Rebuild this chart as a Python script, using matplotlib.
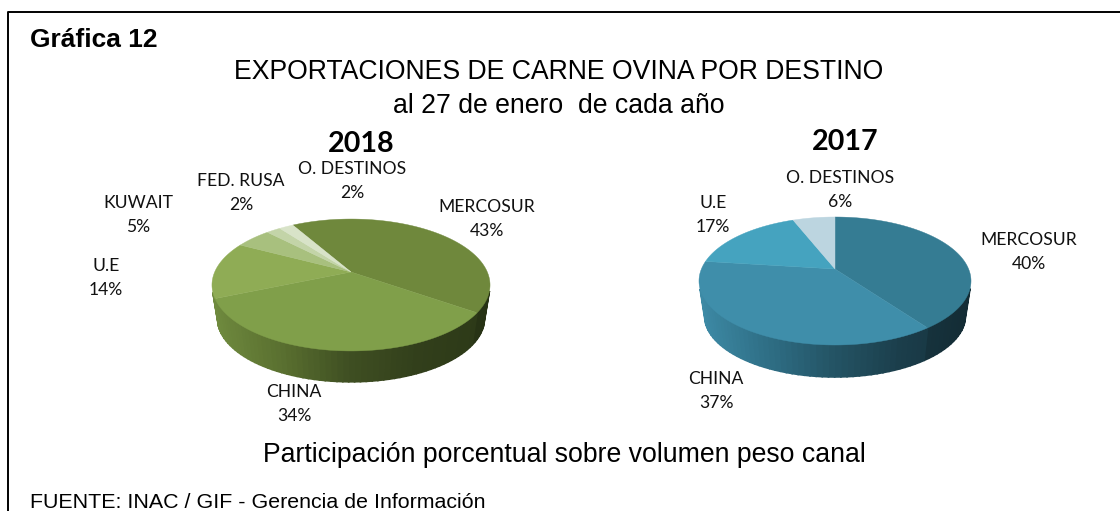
import numpy as np
import matplotlib
matplotlib.use('Agg')
import matplotlib.pyplot as plt
from matplotlib.colors import LinearSegmentedColormap
from matplotlib.patches import Polygon

labels_2018 = ['MERCOSUR', 'CHINA', 'U.E', 'KUWAIT', 'FED. RUSA', 'O. DESTINOS']
values_2018 = [43, 34, 14, 5, 2, 2]
colors_2018 = ['#6f883c', '#809f4a', '#8fac55', '#a8c07e', '#c3d4a8', '#d8e3c8']
side_2018 = ['#6f8a3e', '#5a7030', '#3f4f22', '#323f1b', '#2c3917']

labels_2017 = ['MERCOSUR', 'CHINA', 'U.E', 'O. DESTINOS']
values_2017 = [40, 37, 17, 6]
colors_2017 = ['#357c93', '#3f8eaa', '#45a3bf', '#bcd5e0']
side_2017 = ['#3d8aa5', '#2f6f86', '#245465', '#1b3e4b', '#16323c']

# label centre positions in pixels
label_pos_2018 = [(487, 219), (294, 404), (106, 278), (138, 215), (241, 193), (352, 181)]
label_pos_2017 = [(1029, 252), (716, 391), (713, 215), (840, 190)]

plt.rcParams['font.family'] = ['Liberation Sans', 'DejaVu Sans']

fig = plt.figure(figsize=(11.2, 5.11), dpi=100)
ax = fig.add_axes([0, 0, 1, 1])
ax.set_xlim(0, 1120)
ax.set_ylim(511, 0)
ax.axis('off')


def project(theta, apex, a, b, k):
    # theta clockwise from the top, circle tilted with some perspective
    u = np.sin(theta)
    v = -np.cos(theta)
    den = 1 - k * v
    return apex[0] + a * u / den, apex[1] + b * v / den


def draw_pie(values, colors, side, start, apex, a, b, k, depth):
    fracs = np.array(values) / sum(values)
    edges = np.radians(start + 360 * np.concatenate([[0], np.cumsum(fracs)]))
    cmap = LinearSegmentedColormap.from_list('side', side)
    xmin = apex[0] - a * 1.02
    xmax = apex[0] + a * 1.02
    # the lower rim is a bit smaller, it is further from the viewer
    low_apex = (apex[0], apex[1] + depth + 3)

    # the side wall, only the part facing the viewer
    for i in range(len(values)):
        t = np.linspace(edges[i], edges[i + 1], 60)
        x, y = project(t, apex, a, b, k)
        xl, yl = project(t, low_apex, a * 0.96, b * 0.96, k)
        for j in range(len(t) - 1):
            if -np.cos((t[j] + t[j + 1]) / 2) < k + 0.1:
                continue
            pts = [(x[j], y[j]), (x[j + 1], y[j + 1]),
                   (xl[j + 1], yl[j + 1]), (xl[j], yl[j])]
            c = np.array(cmap((x[j] - xmin) / (xmax - xmin)))
            if i == 0:
                c[:3] *= 0.88
            ax.add_patch(Polygon(pts, closed=True, fc=c, ec=c, lw=1.2))

    # the top face
    for i in range(len(values)):
        t = np.linspace(edges[i], edges[i + 1], 120)
        x, y = project(t, apex, a, b, k)
        pts = [apex] + list(zip(x, y))
        ax.add_patch(Polygon(pts, closed=True, fc=colors[i], ec=colors[i], lw=0.3))


draw_pie(values_2018, colors_2018, side_2018, -30, (351, 272), 136.3, 63.4, 0.197, 31)
draw_pie(values_2017, colors_2017, side_2017, 0, (835, 269), 133.6, 61.75, 0.1875, 32)

for names, vals, pos in [(labels_2018, values_2018, label_pos_2018),
                         (labels_2017, values_2017, label_pos_2017)]:
    for name, val, (x, y) in zip(names, vals, pos):
        ax.text(x, y, f'{name}\n{val}%', ha='center', va='center', fontsize=12.6,
                family='Lato', color='#111111', linespacing=1.55)

ax.text(361, 144, '2018', ha='center', va='center', fontsize=20.6, fontweight='bold', family='Lato')
ax.text(845, 142, '2017', ha='center', va='center', fontsize=20.6, fontweight='bold', family='Lato')

ax.text(30, 40, 'Gráfica 12', ha='left', va='center', fontsize=19, fontweight='bold')
ax.text(559, 72, 'EXPORTACIONES DE CARNE OVINA POR DESTINO', ha='center', va='center', fontsize=19.2)
ax.text(559, 106, 'al 27 de enero  de cada año', ha='center', va='center', fontsize=19.2)
ax.text(564, 455, 'Participación porcentual sobre volumen peso canal', ha='center', va='center', fontsize=19.2)
ax.text(30, 502, 'FUENTE: INAC / GIF - Gerencia de Información', ha='left', va='center', fontsize=15.4)

# frame, only left and top, running off the picture
ax.plot([8, 8, 1120], [511, 12.5, 12.5], color='black', lw=1.4)

fig.savefig('out.png', dpi=100)
